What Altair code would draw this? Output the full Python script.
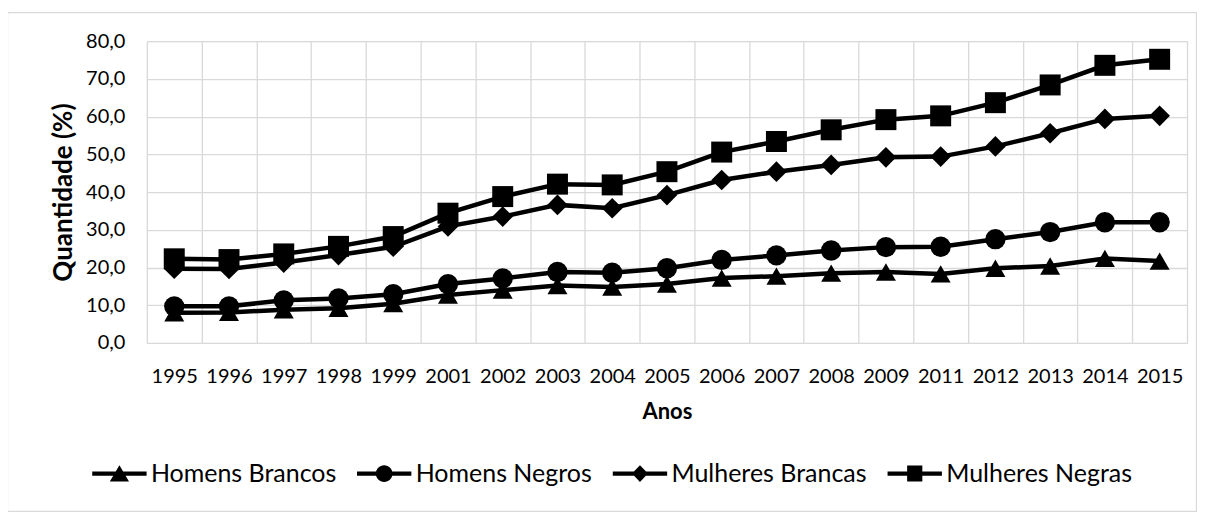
import altair as alt
import pandas as pd

anos = ["1995", "1996", "1997", "1998", "1999", "2001", "2002", "2003", "2004", "2005",
        "2006", "2007", "2008", "2009", "2011", "2012", "2013", "2014", "2015"]
series = ["Homens Brancos", "Homens Negros", "Mulheres Brancas", "Mulheres Negras"]

homens_brancos = [8.0, 8.1, 8.8, 9.2, 10.4, 12.7, 14.0, 15.2, 14.8, 15.6,
                  17.2, 17.7, 18.5, 18.8, 18.3, 19.8, 20.4, 22.4, 21.7]
homens_negros = [9.7, 9.7, 11.3, 11.8, 12.9, 15.6, 17.1, 18.8, 18.6, 19.8,
                 22.0, 23.2, 24.5, 25.4, 25.5, 27.5, 29.4, 32.0, 32.0]
mulheres_brancas = [19.7, 19.6, 21.3, 23.3, 25.5, 30.9, 33.5, 36.6, 35.7, 39.2,
                    43.2, 45.4, 47.2, 49.2, 49.4, 52.1, 55.6, 59.4, 60.2]
mulheres_negras = [22.3, 22.1, 23.6, 25.6, 28.2, 34.4, 38.8, 42.1, 41.9, 45.4,
                   50.6, 53.4, 56.5, 59.2, 60.2, 63.7, 68.4, 73.6, 75.2]

y_ticks = [0, 10, 20, 30, 40, 50, 60, 70, 80]

rows = []
for nome, vals in zip(series, [homens_brancos, homens_negros, mulheres_brancas, mulheres_negras]):
    for a, v in zip(anos, vals):
        rows.append({"Ano": a, "Serie": nome, "Valor": v})
df = pd.DataFrame(rows)

GRID = "#d9d9d9"
FONT = "Lato"

# plot markers
marker_shapes = ["triangle-up", "circle", "diamond", "square"]
marker_sizes = [400, 441, 676, 324]

# legend symbols: line segment + marker (unit coords, scaled by sqrt(size)/2)
line_path = "M-3.4,-0.27H3.4V0.27H-3.4Z"
legend_paths = [
    line_path + "M0,-1.05L1.2,1.0L-1.2,1.0Z",
    line_path + "M-1.05,0A1.05,1.05 0 1,1 1.05,0A1.05,1.05 0 1,1 -1.05,0Z",
    line_path + "M0,-1.05L1.0,0L0,1.05L-1.0,0Z",
    line_path + "M-0.95,-1.0H0.95V1.0H-0.95Z",
]

x_enc = alt.X(
    "Ano:O",
    sort=anos,
    scale=alt.Scale(type="band", paddingInner=0, paddingOuter=0),
    axis=alt.Axis(
        title="Anos",
        labelAngle=0,
        labelFontSize=20,
        labelFont=FONT,
        labelColor="black",
        labelPadding=24,
        ticks=False,
        tickSize=0,
        domain=False,
        grid=True,
        gridColor=GRID,
        gridWidth=1.3,
        tickBand="extent",
        titleFontSize=22,
        titleFont=FONT,
        titleFontWeight="bold",
        titleColor="black",
        titlePadding=15,
    ),
)

y_enc = alt.Y(
    "Valor:Q",
    scale=alt.Scale(domain=[0, 80], nice=False, zero=True),
    axis=alt.Axis(
        values=y_ticks,
        labelExpr="replace(format(datum.value, '.1f'), '.', ',')",
        title="Quantidade (%)",
        labelFontSize=20,
        labelFont=FONT,
        labelColor="black",
        labelPadding=22,
        ticks=False,
        tickSize=0,
        domain=False,
        grid=True,
        gridColor=GRID,
        gridWidth=1.3,
        titleFontSize=26,
        titleFont=FONT,
        titleFontWeight="bold",
        titleColor="black",
        titlePadding=9,
    ),
)

frame = alt.Chart(pd.DataFrame({"k": [0]})).mark_rect(
    fillOpacity=0, stroke=GRID, strokeWidth=1.3
).encode(
    x=alt.value(-139.5), x2=alt.value(1050.5), y=alt.value(-28.5), y2=alt.value(470.5)
)

lines = alt.Chart(df).mark_line(color="black", strokeWidth=4.5).encode(
    x=x_enc, y=y_enc, detail="Serie:N"
)

points = alt.Chart(df).mark_point(filled=True, color="black", opacity=1).encode(
    x=x_enc,
    y=y_enc,
    shape=alt.Shape("Serie:N", scale=alt.Scale(domain=series, range=marker_shapes), legend=None),
    size=alt.Size("Serie:N", scale=alt.Scale(domain=series, range=marker_sizes), legend=None),
)

legend_layer = alt.Chart(df).mark_point(filled=True, color="black", opacity=1, clip=True).encode(
    x=x_enc,
    y=alt.value(5000),
    shape=alt.Shape(
        "Serie:N",
        scale=alt.Scale(domain=series, range=legend_paths),
        legend=alt.Legend(
            title=None,
            orient="none",
            direction="horizontal",
            legendX=-40,
            legendY=420,
            labelFont=FONT,
            labelFontSize=25,
            labelColor="black",
            labelLimit=400,
            labelOffset=19,
            columnPadding=20,
            symbolSize=256,
            symbolStrokeWidth=0,
            symbolFillColor="black",
            symbolOpacity=1,
            padding=0,
        ),
    ),
    size=alt.value(256),
)

chart = alt.layer(frame, lines, points, legend_layer).resolve_scale(
    shape="independent", size="independent"
).properties(
    width=1041,
    height=302,
    autosize=alt.AutoSizeParams(type="none"),
    padding={"left": 139, "top": 33, "right": 10, "bottom": 172},
).configure_view(stroke=GRID, strokeWidth=1.3).configure(font=FONT)

chart.save("out.html", embed_options={"renderer": "svg", "actions": False})
